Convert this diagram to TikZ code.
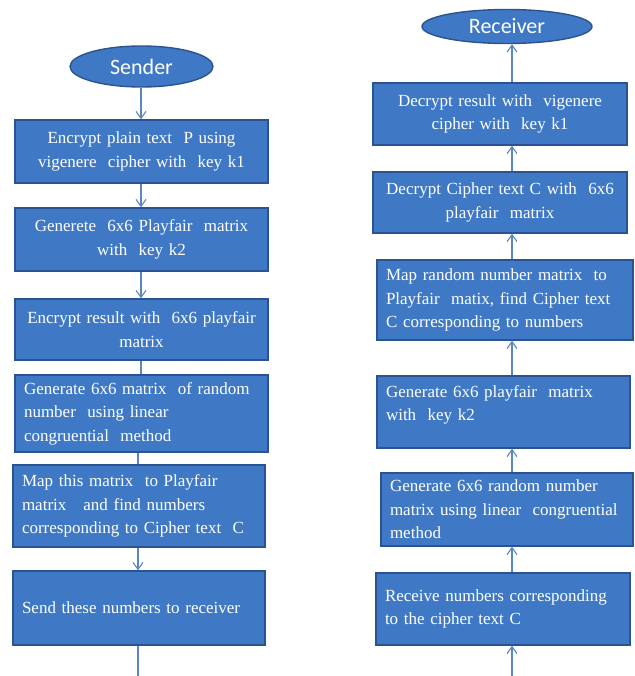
\documentclass[tikz,border=0pt]{standalone}
\usepackage{fontspec}
\setmainfont{Liberation Serif}
\newfontfamily\timesfont{Liberation Serif}
\newfontfamily\calibrifont{Carlito}
\usetikzlibrary{arrows.meta,shapes.geometric}
\definecolor{boxfill}{HTML}{3F79C6}
\definecolor{boxline}{HTML}{2C5391}
\definecolor{flowline}{HTML}{5A86C4}
\newcommand{\stagefont}{\timesfont\fontsize{17}{23.5}\selectfont}

\begin{document}
\begin{tikzpicture}[x=1pt,y=-1pt,
    stage/.style={rectangle,draw=boxline,fill=boxfill,line width=1.4pt,text=white,
      inner xsep=9pt,inner ysep=0pt,font=\stagefont},
    party/.style={ellipse,draw=boxline,fill=boxfill,line width=1.4pt,text=white,
      inner sep=0pt,font=\calibrifont\fontsize{22}{26}\selectfont},
    flow/.style={draw=flowline,line width=1.1pt},
    arr/.style={flow,-{Straight Barb[length=7pt,width=10pt]}}]
  \useasboundingbox (0,0) rectangle (634,676);
  % sender side
  \node[party,minimum width=143pt,minimum height=41pt] (sender) at (141.5,66.5) {Sender};
  \node[stage,text width=235pt,minimum height=63pt,align=center] (s1) at (141.5,151.5)
    {Encrypt plain text\ \ P using\\vigenere\ \ cipher with\ \ key k1};
  \node[stage,text width=235pt,minimum height=63pt,align=center] (s2) at (141.5,239.5)
    {Generete\ \ 6x6 Playfair\ \ matrix\\with\ \ key k2};
  \node[stage,text width=235pt,minimum height=61pt,align=center] (s3) at (141.5,329.5)
    {Encrypt result with\ \ 6x6 playfair\\matrix};
  \node[stage,text width=235pt,minimum height=77pt,align=left] (s4) at (141.5,413.5)
    {Generate 6x6 matrix\ \ of random\\number\ \ using linear\\congruential\ \ method};
  \node[stage,text width=234pt,minimum height=82pt,align=left] (s5) at (139,506)
    {Map this matrix\ \ to Playfair\\matrix\ \ \ and find numbers\\corresponding to Cipher text\ \ C};
  \node[stage,text width=234pt,minimum height=74pt,align=left] (s6) at (139,608)
    {Send these numbers to receiver};
  \coordinate (sx) at (141,0);
  \coordinate (sy) at (138,0);
  \coordinate (sout) at (138,676);
  \draw[arr] (sender.south -| sx) -- (s1.north -| sx);
  \draw[arr] (s1.south -| sx) -- (s2.north -| sx);
  \draw[arr] (s2.south -| sx) -- (s3.north -| sx);
  \draw[flow] (s3.south -| sx) -- (s4.north -| sx);
  \draw[flow] (s4.south -| sy) -- (s5.north -| sy);
  \draw[arr] (s5.south -| sy) -- (s6.north -| sy);
  \draw[flow] (s6.south -| sy) -- (sout);
  % receiver side
  \node[party,minimum width=170pt,minimum height=34pt] (receiver) at (507,26.5) {Receiver};
  \node[stage,text width=236pt,minimum height=62pt,align=center] (r1) at (500,114)
    {Decrypt result with\ \ vigenere\\cipher with\ \ key k1};
  \node[stage,text width=236pt,minimum height=61pt,align=center] (r2) at (500,202.5)
    {Decrypt Cipher text C with\ \ 6x6\\playfair\ \ matrix};
  \node[stage,text width=238pt,minimum height=80pt,align=left] (r3) at (505,300)
    {Map random number matrix\ \ to\\Playfair\ \ matix, find Cipher text\\C corresponding to numbers};
  \node[stage,text width=235pt,minimum height=72pt,align=left] (r4) at (503.5,412)
    {Generate 6x6 playfair\ \ matrix\\with\ \ key k2\\[-6pt]\mbox{}};
  \node[stage,text width=234pt,minimum height=73pt,align=left] (r5) at (507,509.5)
    {Generate 6x6 random number\\matrix using linear\ \ congruential\\method};
  \node[stage,text width=236pt,minimum height=72pt,align=left] (r6) at (503,609)
    {Receive numbers corresponding\\to the cipher text C};
  \coordinate (rx) at (512,0);
  \coordinate (rin) at (512,676);
  \draw[arr] (rin) -- (r6.south -| rx);
  \draw[arr] (r6.north -| rx) -- (r5.south -| rx);
  \draw[arr] (r5.north -| rx) -- (r4.south -| rx);
  \draw[arr] (r4.north -| rx) -- (r3.south -| rx);
  \draw[arr] (r3.north -| rx) -- (r2.south -| rx);
  \draw[arr] (r2.north -| rx) -- (r1.south -| rx);
  \draw[arr] (r1.north -| rx) -- (receiver.south -| rx);
\end{tikzpicture}
\end{document}
